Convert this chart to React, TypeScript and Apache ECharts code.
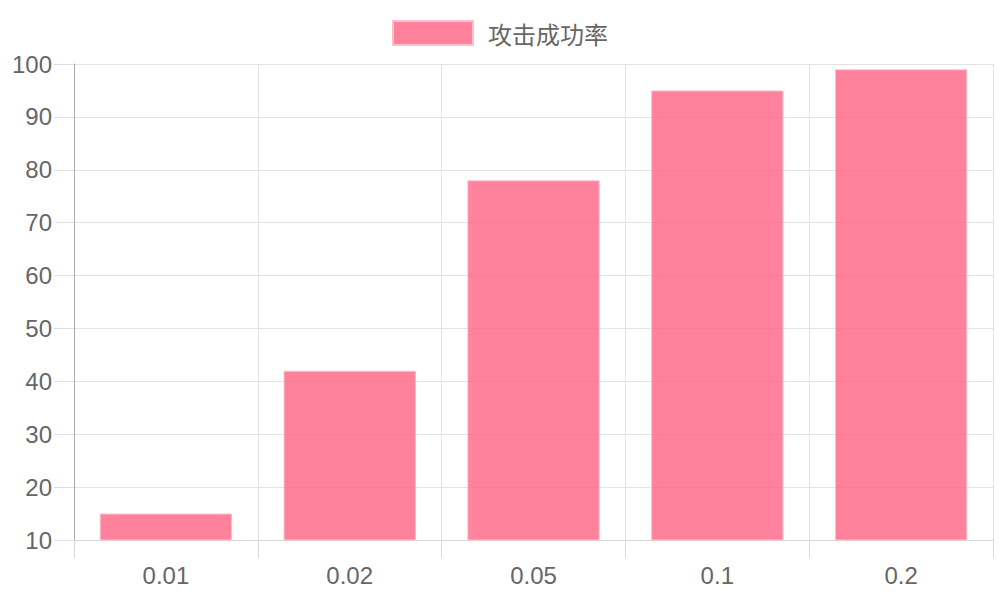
import { useEffect, useRef } from 'react';
import * as echarts from 'echarts';

const categories = ['0.01', '0.02', '0.05', '0.1', '0.2'];
const successRate = [15, 42, 78, 95, 99];
const seriesName = '攻击成功率';

const App = () => {
  const chartRef = useRef<HTMLDivElement>(null);

  useEffect(() => {
    if (!chartRef.current) return;
    const chart = echarts.init(chartRef.current, undefined, { renderer: 'svg' });

    const font = '"Liberation Sans", Arial, sans-serif';
    chart.setOption({
      animation: false,
      legend: {
        data: [seriesName],
        top: 20,
        left: 'center',
        padding: 0,
        itemWidth: 80,
        itemHeight: 24,
        icon: 'rect',
        textStyle: {
          fontSize: 24,
          color: '#666',
          fontFamily: '"Noto Sans CJK SC", sans-serif',
          padding: [0, 0, 0, 10]
        }
      },
      grid: {
        left: 74,
        right: 7,
        top: 64,
        bottom: 60
      },
      xAxis: {
        type: 'category',
        data: categories,
        boundaryGap: true,
        axisLine: { lineStyle: { color: '#d9d9d9' } },
        axisTick: { show: true, length: 18, lineStyle: { color: '#d9d9d9' } },
        splitLine: { show: true, lineStyle: { color: '#e3e3e3' } },
        axisLabel: {
          fontSize: 24,
          color: '#666',
          fontFamily: font,
          margin: 23
        }
      },
      yAxis: {
        type: 'value',
        min: 10,
        max: 100,
        interval: 10,
        axisLine: { show: true, lineStyle: { color: '#aaa' } },
        axisTick: { show: true, length: 20, lineStyle: { color: '#e0e0e0' } },
        splitLine: { show: true, lineStyle: { color: '#e3e3e3' } },
        axisLabel: {
          fontSize: 24,
          color: '#666',
          fontFamily: font,
          margin: 22
        }
      },
      series: [
        {
          name: seriesName,
          type: 'bar',
          data: successRate,
          barCategoryGap: '28%',
          itemStyle: {
            color: 'rgba(255, 99, 132, 0.8)',
            borderColor: 'rgba(255, 190, 205, 1)',
            borderWidth: 1
          }
        }
      ]
    });

    return () => {
      chart.dispose();
    };
  }, []);

  return (
    <div
      ref={chartRef}
      style={{ position: 'absolute', left: 0, top: 0, width: 1000, height: 600, background: '#fff' }}
    />
  );
};

export default App;
